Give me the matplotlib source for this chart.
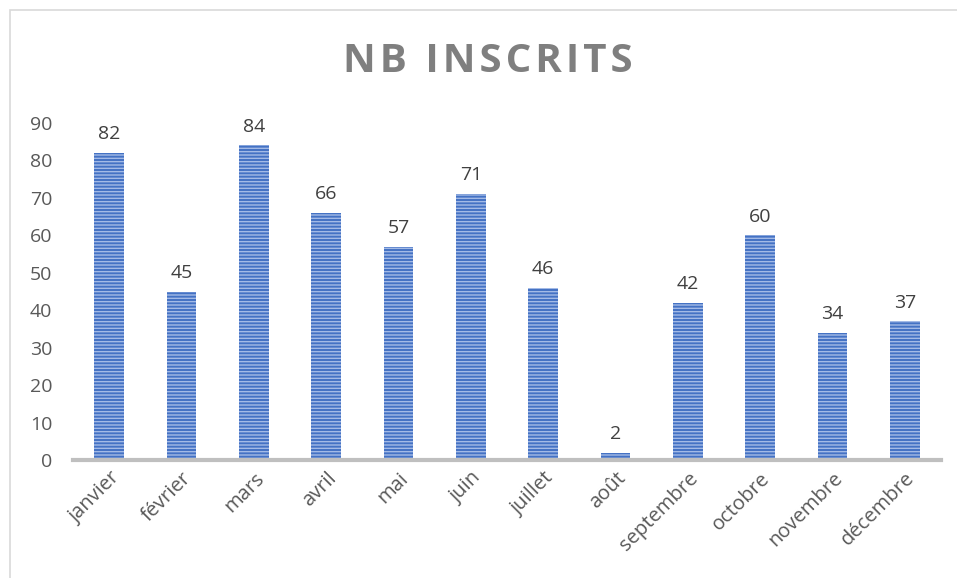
import matplotlib.pyplot as plt
from matplotlib.patches import Rectangle

months = ['janvier', 'février', 'mars', 'avril', 'mai', 'juin', 'juillet',
          'août', 'septembre', 'octobre', 'novembre', 'décembre']
inscrits = [82, 45, 84, 66, 57, 71, 46, 2, 42, 60, 34, 37]
yticks = [0, 10, 20, 30, 40, 50, 60, 70, 80, 90]

plt.rcParams['font.family'] = ['Open Sans', 'DejaVu Sans']
plt.rcParams['hatch.color'] = '#A3BAE6'
plt.rcParams['hatch.linewidth'] = 1.0

fig = plt.figure(figsize=(9.57, 5.78), dpi=100)
ax = fig.add_axes([73 / 957, 1 - 460 / 578, 868 / 957, 337 / 578])

# light frame around the chart area
fig.patches.append(Rectangle((10 / 957, -0.1), 1.2, 1 - 10 / 578 + 0.1,
                             transform=fig.transFigure, fill=False,
                             edgecolor='#D9D9D9', linewidth=1.2))

x = range(len(months))
ax.bar(x, inscrits, width=0.41, color='#4472C4', hatch='-----', zorder=2)

for xi, v in zip(x, inscrits):
    ax.annotate(str(v), (xi, v), xytext=(0, 7), textcoords='offset points',
                ha='center', va='bottom', fontsize=14, color='#404040')

ax.set_xlim(-0.5, len(months) - 0.5)
ax.set_ylim(0, 90)
ax.set_yticks(yticks)
ax.set_yticklabels([str(t) for t in yticks], fontsize=14, color='#595959')
ax.set_xticks(list(x))
ax.set_xticklabels(months, rotation=45, ha='right', rotation_mode='anchor',
                   fontsize=14.5, color='#595959')
ax.tick_params(axis='both', length=0)
ax.tick_params(axis='y', pad=15)
ax.tick_params(axis='x', pad=6)

for s in ['top', 'right', 'left']:
    ax.spines[s].set_visible(False)
ax.spines['bottom'].set_color('#BFBFBF')
ax.spines['bottom'].set_linewidth(3)

# spaced-out title letters
title = '\u200a'.join('NB INSCRITS')
fig.text(488 / 957, 1 - 62 / 578, title, ha='center', va='center',
         fontsize=29, fontweight='bold', color='#7F7F7F')

fig.savefig('out.png', dpi=100, facecolor='white')
